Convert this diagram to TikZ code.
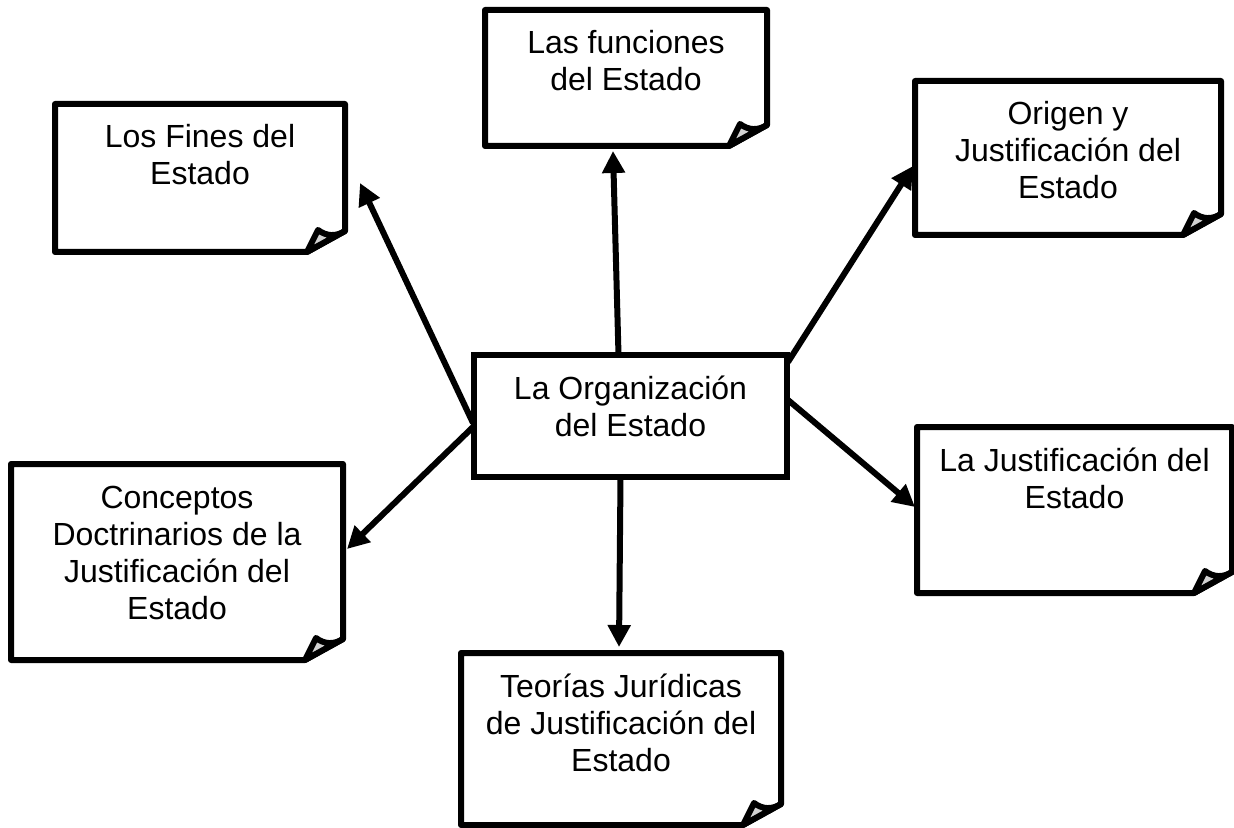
\documentclass[tikz,border=0pt]{standalone}
\usepackage{fontspec}
\setmainfont{Liberation Sans}
\usetikzlibrary{arrows.meta, calc}

% text set from the top of a card
\newcommand{\cardtext}[3]{\parbox[c][#2][t]{#1}{\centering\rule{0pt}{22pt}#3}}
% card outline with a curled bottom right corner
\newcommand{\dogear}[1]{%
    \coordinate (#1-a) at ($(#1.south east)+(-38,0)$);
    \coordinate (#1-b) at ($(#1.south east)+(0,-21)$);
    \coordinate (#1-c) at ($(#1.south east)+(-27,-22)$);
    \draw[cardline] (#1.north west) -- (#1.north east) -- (#1-b) -- (#1-a) -- (#1.south west) -- cycle;
    \filldraw[foldline] (#1-a) -- (#1-c) to[bend right=35] (#1-b) -- cycle;}

\begin{document}
\begin{tikzpicture}[
    x=0.5pt, y=-0.5pt,
    font=\fontsize{16}{18.5}\selectfont,
    card/.style={inner sep=0pt, outer sep=0pt},
    cardline/.style={line width=3pt, line join=round},
    foldline/.style={line width=3pt, line join=round, fill=gray!35},
    arrow/.style={-{Triangle[length=11pt, width=11pt]}, line width=3pt}
]
    \useasboundingbox (0,0) rectangle (1234,828);

    \node[card, draw, line width=3pt] (org) at (630.5,416) {\cardtext{156.5pt}{61pt}{La Organización\\del Estado}};
    \node[card] (funcs) at (626,78) {\cardtext{141pt}{68pt}{Las funciones\\del Estado}};
    \node[card] (fines) at (200,178) {\cardtext{145pt}{74pt}{Los Fines del\\Estado}};
    \node[card] (origen) at (1068,158) {\cardtext{153pt}{77pt}{Origen y\\Justificación del\\Estado}};
    \node[card] (justif) at (1074.5,510) {\cardtext{157.5pt}{83pt}{La Justificación del\\Estado}};
    \node[card] (concept) at (177,562) {\cardtext{166pt}{98pt}{Conceptos\\Doctrinarios de la\\Justificación del\\Estado}};
    \node[card] (teorias) at (621,739) {\cardtext{160pt}{86pt}{Teorías Jurídicas\\de Justificación del\\Estado}};

    \dogear{funcs}
    \dogear{fines}
    \dogear{origen}
    \dogear{justif}
    \dogear{concept}
    \dogear{teorias}

    \draw[arrow] ($(org.north)+(-12,0)$) -- ($(funcs.south)+(-13,5)$);
    \draw[arrow] ($(org.west)+(-1,7)$) -- ($(fines.south east)+(15,-69)$);
    \draw[arrow] ($(org.west)+(-1,11)$) -- ($(concept.east)+(4,-13)$);
    \draw[arrow] ($(org.south)+(-10,0)$) -- ($(teorias.north)+(-2,-6)$);
    \draw[arrow] ($(org.north east)+(1,7)$) -- ($(origen.west)+(-2,8)$);
    \draw[arrow] ($(org.north east)+(1,45)$) -- ($(justif.west)+(-2,-3)$);
\end{tikzpicture}
\end{document}
